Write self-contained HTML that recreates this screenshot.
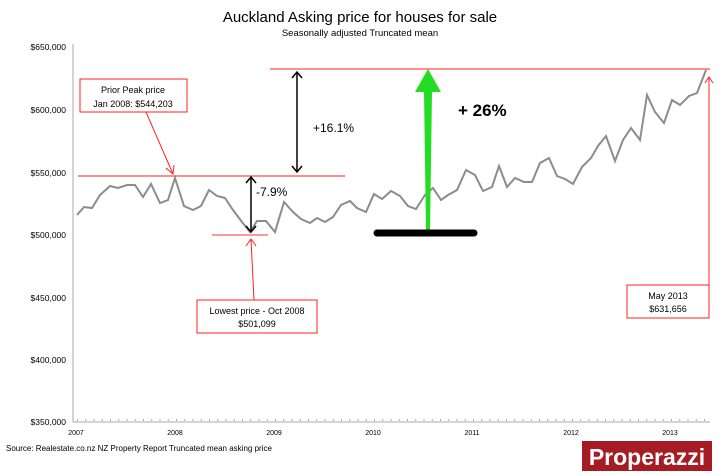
<!DOCTYPE html>
<html><head><meta charset="utf-8"><style>
body{margin:0;background:#fff}
svg text{font-family:"Liberation Sans",sans-serif}
</style></head><body>
<svg width="720" height="471" viewBox="0 0 720 471" xmlns="http://www.w3.org/2000/svg">
<rect width="720" height="471" fill="#fff"/>
<text x="360" y="22" text-anchor="middle" font-size="15" fill="#000">Auckland Asking price for houses for sale</text>
<text x="360" y="36" text-anchor="middle" font-size="9.5" fill="#000">Seasonally adjusted Truncated mean</text>
<g font-size="8.5" fill="#000" text-anchor="end">
<text x="66" y="50">$650,000</text>
<text x="66" y="113">$600,000</text>
<text x="66" y="176">$550,000</text>
<text x="66" y="238">$500,000</text>
<text x="66" y="301">$450,000</text>
<text x="66" y="363">$400,000</text>
<text x="66" y="425">$350,000</text>
</g>
<line x1="73" y1="44" x2="73" y2="422" stroke="#aaa" stroke-width="1"/>
<line x1="73" y1="422" x2="710" y2="422" stroke="#aaa" stroke-width="1"/>
<line x1="77" y1="420" x2="710" y2="420" stroke="#aaa" stroke-width="2" stroke-dasharray="1,7.25"/>
<g font-size="7" fill="#000" text-anchor="middle">
<text x="76" y="435">2007</text><text x="175" y="435">2008</text><text x="274" y="435">2009</text><text x="373" y="435">2010</text><text x="472" y="435">2011</text><text x="571" y="435">2012</text><text x="670" y="435">2013</text>
</g>
<text x="6" y="451" font-size="8" fill="#000">Source: Realestate.co.nz NZ Property Report Truncated mean asking price</text>
<polyline fill="none" stroke="#8c8c8c" stroke-width="2" points="77,215 84,207 92,208 100,195 110,186 118,188 127,185 135,185 143,197 151,184 160,203 168,200 175,178 184,206 193,210 201,206 209,190 217,196 225,198 233,210 242,222 250,232 257,221 266,221 275,232 284,202 293,212 301,219 310,223 317,218 325,222 333,217 341,205 350,201 357,208 366,212 374,194 382,199 391,191 400,196 408,206 416,209 425,195 433,188 441,200 448,195 457,190 466,170 475,175 483,191 492,187 499,166 507,187 515,178 524,182 532,182 540,163 549,158 557,176 565,179 573,184 582,167 591,158 598,146 606,136 615,161 623,140 631,128 640,140 647,95 655,112 664,123 672,100 680,105 689,96 697,93 706,70"/>
<line x1="270" y1="69" x2="710" y2="69" stroke="#f22" stroke-width="1"/>
<line x1="78" y1="176" x2="345" y2="176" stroke="#f22" stroke-width="1"/>
<line x1="212" y1="235" x2="268" y2="235" stroke="#f77" stroke-width="1.5"/>
<g stroke="#000" stroke-width="1.5" fill="none">
<line x1="297" y1="72" x2="297" y2="172"/><polyline points="292,78 297,72 302,78"/><polyline points="292,166 297,172 302,166"/>
<line x1="251" y1="177" x2="251" y2="232"/><polyline points="246,183 251,177 256,183"/><polyline points="246,226 251,232 256,226"/>
</g>
<text x="313" y="132" font-size="12" fill="#000">+16.1%</text>
<text x="256" y="196" font-size="12" fill="#000">-7.9%</text>
<polygon points="428,69 441,92 432,92 430,230 426,230 424,92 415,92" fill="#22dd22"/>
<line x1="377" y1="233" x2="474" y2="233" stroke="#000" stroke-width="7" stroke-linecap="round"/>
<text x="458" y="116" font-size="17" font-weight="bold" fill="#000">+ 26%</text>
<g stroke="#f22" stroke-width="1" fill="none">
<rect x="80" y="79" width="107" height="33" fill="#fff"/>
<line x1="146" y1="112" x2="173" y2="174"/><polyline points="166,168 173,174 174,165"/>
<rect x="197" y="300" width="120" height="33" fill="#fff"/>
<line x1="254" y1="300" x2="251" y2="239"/><polyline points="246,246 251,239 256,246"/>
<rect x="627" y="285" width="82" height="33" fill="#fff"/>
<line x1="709" y1="285" x2="709" y2="77"/><polyline points="705,83 709,77 713,83"/>
</g>
<g font-size="9" fill="#000" text-anchor="middle">
<text x="133" y="93">Prior Peak price</text><text x="133" y="107">Jan 2008: $544,203</text>
<text x="257" y="314">Lowest price - Oct 2008</text><text x="257" y="327">$501,099</text>
<text x="668" y="299">May 2013</text><text x="668" y="312">$631,656</text>
</g>
<rect x="582" y="441" width="130" height="30" fill="#a51c24"/>
<text x="647" y="465" text-anchor="middle" font-size="23" font-weight="bold" fill="#fff">Properazzi</text>
</svg>
</body></html>
